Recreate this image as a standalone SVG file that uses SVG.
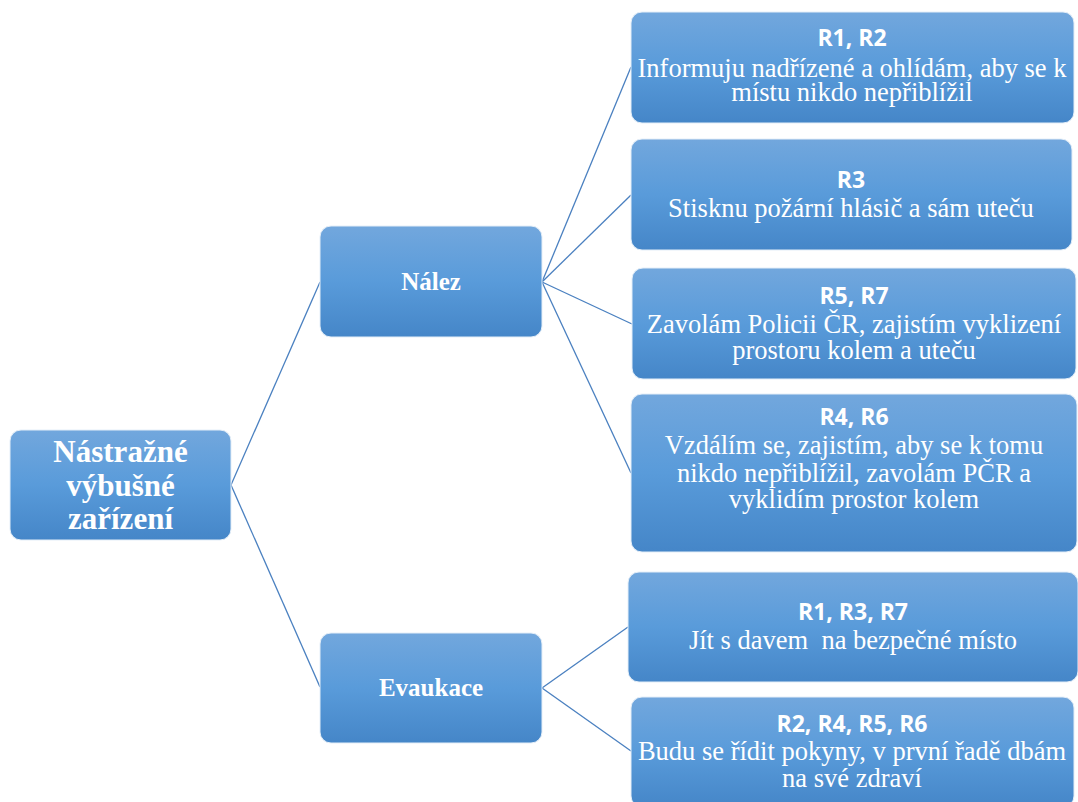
<svg xmlns="http://www.w3.org/2000/svg" width="1078" height="802" viewBox="0 0 1078 802">
  <defs>
    <linearGradient id="boxFill" x1="0" y1="0" x2="0" y2="1">
      <stop offset="0" stop-color="#72a7dd"/>
      <stop offset="0.5" stop-color="#599bda"/>
      <stop offset="1" stop-color="#4586c8"/>
    </linearGradient>
  </defs>
  <style>
    .box { fill: url(#boxFill); stroke: #e4eef8; stroke-width: 1; }
    .edge { fill: none; stroke: #4a80c0; stroke-width: 1.3; }
    .title { font-family: "Liberation Serif", "Times New Roman", serif; font-weight: bold; fill: #ffffff; text-anchor: middle; }
    .head { font-family: "Open Sans", "Liberation Sans", sans-serif; font-weight: bold; font-size: 23px; fill: #ffffff; text-anchor: middle; }
    .body { font-family: "Liberation Serif", "Times New Roman", serif; font-size: 26.5px; fill: #ffffff; text-anchor: middle; }
  </style>
  <rect width="1078" height="802" fill="#ffffff"/>

  <!-- connectors -->
  <g id="connectors">
    <line class="edge" x1="231" y1="485" x2="320" y2="282"/>
    <line class="edge" x1="231" y1="485" x2="320" y2="687"/>
    <line class="edge" x1="542" y1="282" x2="631" y2="67"/>
    <line class="edge" x1="542" y1="282" x2="631" y2="195"/>
    <line class="edge" x1="542" y1="282" x2="632" y2="324"/>
    <line class="edge" x1="542" y1="282" x2="631" y2="473"/>
    <line class="edge" x1="542" y1="688" x2="628" y2="627"/>
    <line class="edge" x1="542" y1="688" x2="631" y2="751"/>
  </g>

  <!-- root -->
  <g id="root">
    <rect class="box" x="10" y="430" width="221" height="110" rx="11"/>
    <text class="title" font-size="31" x="120.5" y="462">Nástražné</text>
    <text class="title" font-size="31" x="120.5" y="496">výbušné</text>
    <text class="title" font-size="31" x="120.5" y="529">zařízení</text>
  </g>

  <!-- second level -->
  <g id="nalez">
    <rect class="box" x="320" y="226" width="222" height="111" rx="11"/>
    <text class="title" font-size="25" x="431" y="290">Nález</text>
  </g>
  <g id="evakuace">
    <rect class="box" x="320" y="633" width="222" height="110" rx="11"/>
    <text class="title" font-size="25" x="431" y="696">Evaukace</text>
  </g>

  <!-- responses under Nález -->
  <g id="r1r2">
    <rect class="box" x="631" y="12" width="443" height="111" rx="11"/>
    <text class="head" x="852" y="46">R1, R2</text>
    <text class="body" x="852" y="77">Informuju nadřízené a ohlídám, aby se k</text>
    <text class="body" x="852" y="101">místu nikdo nepřiblížil</text>
  </g>
  <g id="r3">
    <rect class="box" x="631" y="139" width="441" height="111" rx="11"/>
    <text class="head" x="851" y="188">R3</text>
    <text class="body" x="851" y="217">Stisknu požární hlásič a sám uteču</text>
  </g>
  <g id="r5r7">
    <rect class="box" x="632" y="268" width="444" height="111" rx="11"/>
    <text class="head" x="854" y="304">R5, R7</text>
    <text class="body" x="854" y="333">Zavolám Policii ČR, zajistím vyklizení</text>
    <text class="body" x="854" y="359">prostoru kolem a uteču</text>
  </g>
  <g id="r4r6">
    <rect class="box" x="631" y="394" width="446" height="158" rx="11"/>
    <text class="head" x="854" y="425">R4, R6</text>
    <text class="body" x="854" y="454">Vzdálím se, zajistím, aby se k tomu</text>
    <text class="body" x="854" y="482">nikdo nepřiblížil, zavolám PČR a</text>
    <text class="body" x="854" y="508">vyklidím prostor kolem</text>
  </g>

  <!-- responses under Evaukace -->
  <g id="r1r3r7">
    <rect class="box" x="628" y="572" width="450" height="110" rx="11"/>
    <text class="head" x="853" y="620">R1, R3, R7</text>
    <text class="body" x="853" y="649" xml:space="preserve">Jít s davem  na bezpečné místo</text>
  </g>
  <g id="r2r4r5r6">
    <rect class="box" x="631" y="697" width="443" height="110" rx="11"/>
    <text class="head" x="852" y="732">R2, R4, R5, R6</text>
    <text class="body" x="852" y="760">Budu se řídit pokyny, v první řadě dbám</text>
    <text class="body" x="852" y="787">na své zdraví</text>
  </g>
</svg>
